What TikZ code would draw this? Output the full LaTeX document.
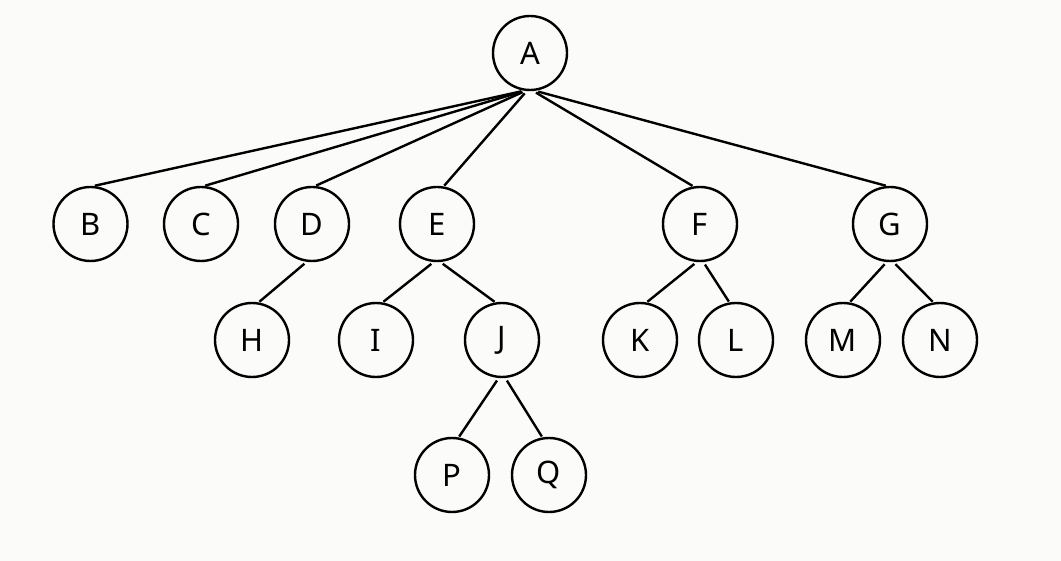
\documentclass[tikz,border=0pt]{standalone}
\usepackage{fontspec}
\setmainfont{Noto Sans}
\definecolor{bg}{RGB}{251,251,249}
\begin{document}
\begin{tikzpicture}[x=1pt,y=-1pt,
  vertex/.style={circle,draw=black,line width=2.4pt,minimum size=74pt,inner sep=0pt,
    font=\fontsize{31}{32}\selectfont},
  edge/.style={line width=2.4pt,shorten <=3pt,shorten >=1pt}]
\fill[bg] (0,0) rectangle (1061,561);
\useasboundingbox (0,0) rectangle (1061,561);
\node[vertex] (A) at (530,53) {A};
\node[vertex] (B) at (90.5,224) {B};
\node[vertex] (C) at (201,224) {C};
\node[vertex] (D) at (312,224) {D};
\node[vertex] (E) at (437,224) {E};
\node[vertex] (F) at (700,224) {F};
\node[vertex] (G) at (890,224) {G};
\node[vertex] (H) at (252,340) {H};
\node[vertex] (I) at (376,340) {I};
\node[vertex] (J) at (502,340) {J};
\node[vertex] (K) at (640,340) {K};
\node[vertex] (L) at (736,340) {L};
\node[vertex] (M) at (843,340) {M};
\node[vertex] (N) at (940,340) {N};
\node[vertex] (P) at (452,475) {P};
\node[vertex] (Q) at (549,475) {Q};
\draw[edge] (A.261) -- (B.85);
\draw[edge] (A.262) -- (C.85);
\draw[edge] (A.263) -- (D.85);
\draw[edge] (A.265) -- (E.80);
\draw[edge] (A.275) -- (F.100);
\draw[edge] (A.278) -- (G.95);
\draw[edge] (D.262) -- (H.80);
\draw[edge] (E.265) -- (I.80);
\draw[edge] (E.275) -- (J.100);
\draw[edge] (J.265) -- (P.80);
\draw[edge] (J.275) -- (Q.100);
\draw[edge] (F.265) -- (K.80);
\draw[edge] (F.275) -- (L.100);
\draw[edge] (G.265) -- (M.80);
\draw[edge] (G.275) -- (N.100);
\end{tikzpicture}
\end{document}
